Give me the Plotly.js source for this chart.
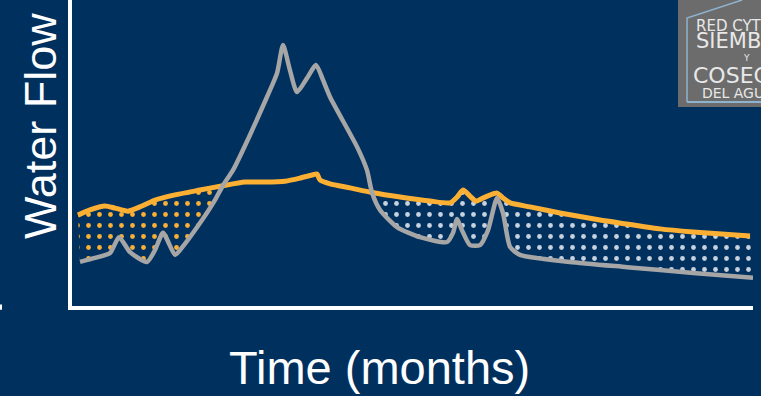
<!DOCTYPE html>
<html>
<head>
<meta charset="utf-8">
<script src="https://cdn.plot.ly/plotly-3.0.1.min.js"></script>
<style>
  html, body { margin: 0; padding: 0; background: #00305e; }
  #chart { width: 761px; height: 396px; }
</style>
</head>
<body>
<div id="chart"></div>
<script>
// Time in days, flow in arbitrary units
const demandTime = [3.2, 9.6, 17.7, 23.0, 30.0, 36.4, 44.5, 55.2, 68.6, 80.8, 92.7, 103.4, 114.2, 122.2, 128.6, 131.3, 132.9, 138.3, 149.0, 160.8, 175.8, 191.9, 202.6, 206.4, 209.6, 213.3, 216.5, 221.4, 227.8, 231.0, 234.8, 245.5, 261.6, 283.0, 297.5, 315.2, 332.9, 363.4];
const demandFlow = [29.7, 31.4, 32.7, 32.0, 31.0, 32.4, 34.6, 36.3, 37.9, 39.3, 40.5, 40.5, 40.8, 41.8, 42.8, 43.1, 41.2, 39.9, 38.6, 37.1, 35.6, 34.3, 33.7, 35.6, 37.9, 35.9, 34.3, 35.6, 36.9, 35.3, 33.7, 32.4, 30.4, 28.1, 26.8, 25.2, 24.2, 22.9];

const riverTime = [4.3, 12.3, 20.4, 25.2, 31.1, 40.2, 44.5, 48.8, 55.2, 57.9, 68.6, 76.6, 80.8, 86.3, 95.4, 104.5, 109.9, 113.1, 116.8, 120.6, 126.0, 130.8, 134.5, 138.3, 152.8, 158.1, 160.8, 165.1, 174.2, 186.5, 201.0, 204.2, 206.4, 209.0, 213.3, 218.7, 223.0, 227.8, 231.0, 234.8, 240.1, 266.9, 297.5, 332.9, 365.0];
const riverFlow = [14.4, 15.7, 17.3, 22.5, 17.6, 14.4, 18.3, 23.9, 16.7, 18.3, 27.1, 34.6, 39.3, 44.4, 55.9, 68.3, 76.1, 85.3, 77.1, 69.9, 74.5, 78.8, 73.9, 68.3, 52.0, 44.4, 37.1, 31.4, 25.8, 22.5, 20.9, 23.9, 28.4, 24.8, 19.9, 19.9, 24.8, 35.3, 30.4, 19.3, 16.7, 14.4, 12.7, 10.8, 9.2];

// times where the two curves cross
const crossTimes = [80.8, 160.8];

const xTitle = "Time (months)";
const yTitle = "Water Flow";

function seg(T, F, lo, hi) {
  const x = [], y = [];
  for (let i = 0; i < T.length; i++) {
    if (T[i] >= lo && T[i] <= hi) { x.push(T[i]); y.push(F[i]); }
  }
  return {x, y};
}

const orange = '#fbb034';
const grey = '#a6a6a6';
const bg = '#00305e';
const sm = 0.6;

const gl = seg(riverTime, riverFlow, -1, crossTimes[0]);
const ol = seg(demandTime, demandFlow, -1, crossTimes[0]);
const gr = seg(riverTime, riverFlow, crossTimes[1], 1000);
const orr = seg(demandTime, demandFlow, crossTimes[1], 1000);

const base = {type: 'scatter', mode: 'lines', hoverinfo: 'skip', showlegend: false};

const traces = [
  Object.assign({}, base, {x: gl.x, y: gl.y, line: {width: 0, shape: 'spline', smoothing: sm}}),
  Object.assign({}, base, {x: ol.x, y: ol.y, line: {width: 0, shape: 'spline', smoothing: sm},
    fill: 'tonexty', fillcolor: 'rgba(0,0,0,0)',
    fillpattern: {shape: '.', fgcolor: orange, bgcolor: 'rgba(0,0,0,0)', size: 11, solidity: 0.15}}),
  Object.assign({}, base, {x: gr.x, y: gr.y, line: {width: 0, shape: 'spline', smoothing: sm}}),
  Object.assign({}, base, {x: orr.x, y: orr.y, line: {width: 0, shape: 'spline', smoothing: sm},
    fill: 'tonexty', fillcolor: 'rgba(0,0,0,0)',
    fillpattern: {shape: '.', fgcolor: '#c8d2df', bgcolor: 'rgba(0,0,0,0)', size: 11, solidity: 0.15}}),
  Object.assign({}, base, {x: demandTime, y: demandFlow, line: {color: orange, width: 5, shape: 'spline', smoothing: sm}}),
  Object.assign({}, base, {x: riverTime, y: riverFlow, line: {color: grey, width: 4.5, shape: 'spline', smoothing: sm}})
];

const logoFont = {family: 'DejaVu Sans, sans-serif', color: '#e8e8e8'};

const layout = {
  width: 761, height: 396,
  margin: {l: 72, r: 8, t: 0, b: 90},
  paper_bgcolor: bg, plot_bgcolor: bg,
  xaxis: {range: [0, 365], showgrid: false, zeroline: false, showticklabels: false, ticks: '',
    showline: true, linecolor: '#ffffff', linewidth: 4, fixedrange: true},
  yaxis: {range: [0, 100], showgrid: false, zeroline: false, showticklabels: false, ticks: '',
    showline: true, linecolor: '#ffffff', linewidth: 4, fixedrange: true},
  shapes: [
    {type: 'rect', xref: 'paper', yref: 'paper', x0: 0.8899, x1: 1.02, y0: 0.650, y1: 1.0,
      fillcolor: '#6c6c6c', line: {width: 0}, layer: 'above'},
    {type: 'path', xref: 'paper', yref: 'paper', path: 'M 0.9031 0.667 L 0.9031 0.941 L 0.9839 1.0',
      line: {color: '#8fb3cf', width: 1.5}, layer: 'above'},
    {type: 'line', xref: 'paper', yref: 'paper', x0: 0.9031, x1: 1.02, y0: 0.667, y1: 0.667,
      line: {color: '#8fb3cf', width: 2}, layer: 'above'},
    {type: 'rect', xref: 'paper', yref: 'paper', x0: -0.1057, x1: -0.1028, y0: -0.012, y1: 0.005,
      fillcolor: '#ffffff', line: {width: 0}, layer: 'above'}
  ],
  annotations: [
    {xref: 'paper', yref: 'paper', x: 0.452, y: -0.2, xanchor: 'center', yanchor: 'middle',
      text: xTitle, showarrow: false, font: {family: 'Liberation Sans, Arial, sans-serif', size: 47, color: '#ffffff'}},
    {xref: 'paper', yref: 'paper', x: -0.046, y: 0.587, xanchor: 'center', yanchor: 'middle', textangle: -90,
      text: yTitle, showarrow: false, font: {family: 'Liberation Sans, Arial, sans-serif', size: 45, color: '#ffffff'}},
    {xref: 'paper', yref: 'paper', x: 0.9148, y: 0.887, xanchor: 'left', yanchor: 'middle', align: 'left',
      showarrow: false, borderpad: 0, font: Object.assign({}, logoFont, {size: 13}),
      text: '<span style="font-size:15px">RED CYTED</span><br><span style="font-size:21px">SIEMBRA</span>'},
    {xref: 'paper', yref: 'paper', x: 0.991, y: 0.809, xanchor: 'center', yanchor: 'middle',
      showarrow: false, borderpad: 0, font: Object.assign({}, logoFont, {size: 9}), text: 'Y'},
    {xref: 'paper', yref: 'paper', x: 0.9104, y: 0.733, xanchor: 'left', yanchor: 'middle', align: 'left',
      showarrow: false, borderpad: 0, font: Object.assign({}, logoFont, {size: 11.5}),
      text: '<span style="font-size:22px">COSECHA</span><br><span style="font-size:14px">  DEL AGUA</span>'}
  ]
};

Plotly.newPlot('chart', traces, layout, {displayModeBar: false, staticPlot: true});
</script>
</body>
</html>
